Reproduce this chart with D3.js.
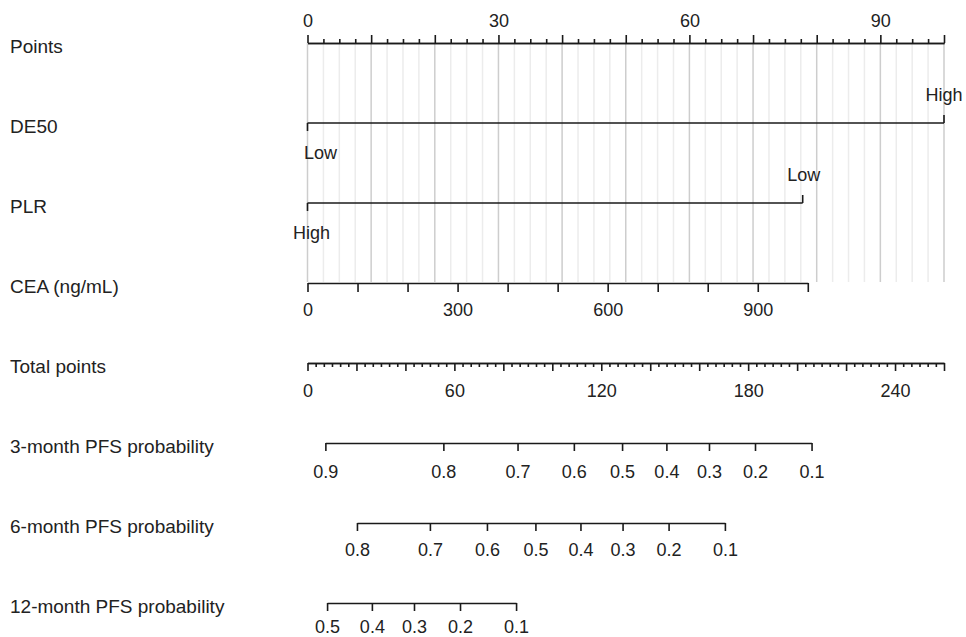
<!DOCTYPE html>
<html>
<head>
<meta charset="utf-8">
<script src="https://cdn.jsdelivr.net/npm/d3@7"></script>
<style>
  body { margin: 0; background: #fff; }
  svg { display: block; font-family: "Liberation Sans", Arial, Helvetica, sans-serif; }
  .axis path, .axis line { stroke: #1a1a1a; stroke-width: 1.6; }
  .axis text { fill: #222; font-size: 18px; }
</style>
</head>
<body>
<script>
// values
const rowLabels = ["Points", "DE50", "PLR", "CEA (ng/mL)", "Total points",
  "3-month PFS probability", "6-month PFS probability", "12-month PFS probability"];

const pointsMax = 100;
const pointsMajor = [0, 10, 20, 30, 40, 50, 60, 70, 80, 90, 100];
const pointsLabels = [0, 30, 60, 90];

const de50Levels = ["Low", "High"];
const de50Points = [0, 100];

const plrLevels = ["High", "Low"];
const plrPoints = [0, 77.8];

const ceaRange = [0, 1000];
const ceaPointsAtMax = 78.6;
const ceaTicks = [0, 100, 200, 300, 400, 500, 600, 700, 800, 900, 1000];
const ceaLabels = [0, 300, 600, 900];

const totalMax = 260;
const totalLabels = [0, 60, 120, 180, 240];

const prob3 = [0.9, 0.8, 0.7, 0.6, 0.5, 0.4, 0.3, 0.2, 0.1];
const prob3Total = [7.3, 55.5, 85.8, 108.8, 128.5, 146.6, 164.0, 182.8, 205.9];

const prob6 = [0.8, 0.7, 0.6, 0.5, 0.4, 0.3, 0.2, 0.1];
const prob6Total = [20.2, 50.0, 73.3, 93.1, 111.5, 128.7, 147.5, 170.5];

const prob12 = [0.5, 0.4, 0.3, 0.2, 0.1];
const prob12Total = [8.0, 26.3, 43.5, 62.3, 85.2];

const W = 966, H = 637;
const x0 = 307.5, x1 = 944;
const rowY = d3.range(rowLabels.length).map(i => 43 + i * 80);

const svg = d3.select('body').append('svg')
  .attr('width', W)
  .attr('height', H);

const xPoints = d3.scaleLinear().domain([0, pointsMax]).range([x0, x1]);
const xTotal = d3.scaleLinear().domain([0, totalMax]).range([x0, x1]);

// grid lines behind the upper block
const grid = svg.append('g');
grid.selectAll('line')
  .data(d3.range(0, pointsMax + 0.01, 2.5))
  .join('line')
  .attr('x1', d => xPoints(d))
  .attr('x2', d => xPoints(d))
  .attr('y1', rowY[0])
  .attr('y2', rowY[3] - 1)
  .attr('stroke', d => d % 10 === 0 ? '#cdcdcd' : '#ececec')
  .attr('stroke-width', 1.5);

// row labels on the left
svg.append('g')
  .selectAll('text')
  .data(rowLabels)
  .join('text')
  .attr('x', 10)
  .attr('y', (d, i) => rowY[i] + 10)
  .attr('fill', '#222')
  .style('font-size', '19px')
  .text(d => d);

function styleAxis(g) {
  g.attr('class', 'axis');
  g.attr('font-family', null).attr('font-size', null);
}

// Points axis (ticks up)
const pointsMinor = d3.range(0, pointsMax + 0.01, 2.5).filter(d => !pointsMajor.includes(d));
svg.append('g')
  .attr('transform', `translate(0,${rowY[0]})`)
  .call(d3.axisTop(xPoints).tickValues(pointsMinor).tickSize(4).tickSizeOuter(0).tickFormat(''))
  .call(styleAxis);
svg.append('g')
  .attr('transform', `translate(0,${rowY[0]})`)
  .call(d3.axisTop(xPoints).tickValues(pointsMajor).tickSize(8).tickSizeOuter(0).tickPadding(8)
    .tickFormat(d => pointsLabels.includes(d) ? d : ''))
  .call(styleAxis);

// categorical rows
function drawFactor(row, levels, pts, nudges) {
  const y = rowY[row];
  const g = svg.append('g').attr('class', 'axis');
  g.append('line')
    .attr('x1', xPoints(d3.min(pts)))
    .attr('x2', xPoints(d3.max(pts)))
    .attr('y1', y).attr('y2', y);
  // first level below the line, second above
  g.selectAll('line.tk')
    .data(pts)
    .join('line')
    .attr('class', 'tk')
    .attr('x1', d => xPoints(d))
    .attr('x2', d => xPoints(d))
    .attr('y1', y)
    .attr('y2', (d, i) => i === 0 ? y + 8 : y - 8);
  g.selectAll('text')
    .data(levels)
    .join('text')
    .attr('x', (d, i) => xPoints(pts[i]) + nudges[i])
    .attr('y', (d, i) => i === 0 ? y + 36 : y - 22)
    .attr('text-anchor', 'middle')
    .text(d => d);
}
drawFactor(1, de50Levels, de50Points, [13, 0]);
drawFactor(2, plrLevels, plrPoints, [4, 1]);

// CEA axis (ticks down)
const xCea = d3.scaleLinear().domain(ceaRange).range([xPoints(0), xPoints(ceaPointsAtMax)]);
svg.append('g')
  .attr('transform', `translate(0,${rowY[3]})`)
  .call(d3.axisBottom(xCea).tickValues(ceaTicks).tickSize(9).tickSizeOuter(0).tickPadding(11)
    .tickFormat(d => ceaLabels.includes(d) ? d : ''))
  .call(styleAxis);

// Total points axis
const totalTicks = d3.range(0, totalMax + 0.01, 10 / 3);
const isMajor = d => Math.abs(d / 20 - Math.round(d / 20)) < 1e-6;
svg.append('g')
  .attr('transform', `translate(0,${rowY[4]})`)
  .call(d3.axisBottom(xTotal).tickValues(totalTicks.filter(d => !isMajor(d))).tickSize(4).tickSizeOuter(0).tickFormat(''))
  .call(styleAxis);
svg.append('g')
  .attr('transform', `translate(0,${rowY[4]})`)
  .call(d3.axisBottom(xTotal).tickValues(totalTicks.filter(isMajor)).tickSize(8).tickSizeOuter(0).tickPadding(13)
    .tickFormat(d => totalLabels.includes(Math.round(d)) ? Math.round(d) : ''))
  .call(styleAxis);

// probability axes, positioned through total points
function drawProb(row, probs, totals, pad) {
  const scale = d3.scaleLinear().domain(probs).range(totals.map(xTotal));
  svg.append('g')
    .attr('transform', `translate(0,${rowY[row]})`)
    .call(d3.axisBottom(scale).tickValues(probs).tickSize(8).tickSizeOuter(0).tickPadding(pad)
      .tickFormat(d3.format('.1f')))
    .call(styleAxis);
}
drawProb(5, prob3, prob3Total, 14);
drawProb(6, prob6, prob6Total, 12);
drawProb(7, prob12, prob12Total, 9);
</script>
</body>
</html>
